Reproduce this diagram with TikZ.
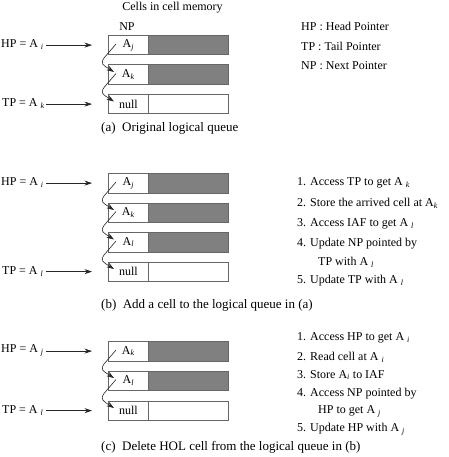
\documentclass[tikz,border=0pt]{standalone}
\usepackage{fontspec}
\setmainfont{Liberation Serif}
\usetikzlibrary{arrows.meta}
\newcommand{\ssub}[1]{\textsubscript{\textit{#1}}}
\newcommand{\qcell}[4]{%
  \node[npbox] (#1n) at (108,#2) {#3};
  \node[databox,#4] (#1d) at (148,#2) {};}
\newcommand{\qlink}[2]{%
  \draw[ptr] ([xshift=8pt,yshift=-9pt]#1n.north west) -- ([xshift=-4pt,yshift=-23pt]#1n.north west)
    .. controls ([xshift=-8pt,yshift=-29pt]#1n.north west) and ([xshift=-5pt,yshift=-0.5pt]#2n.north west)
    .. ([xshift=6pt,yshift=-7.5pt]#2n.north west);}
\newcommand{\qptr}[1]{%
  \draw[ptr] ([xshift=-62pt]#1n.west) -- ([xshift=-16pt]#1n.west);}
\begin{document}
\begin{tikzpicture}[x=1pt,y=-1pt,font=\fontsize{12}{14}\selectfont,
  npbox/.style={draw=black!60,line width=0.7pt,minimum width=40pt,minimum height=19.5pt,inner sep=0pt,anchor=north west},
  databox/.style={draw=black!60,line width=0.7pt,minimum width=80pt,minimum height=19.5pt,inner sep=0pt,anchor=north west},
  full/.style={fill=black!50},
  empty/.style={},
  ptr/.style={-{Stealth[length=7.5pt,width=5pt]},line width=0.6pt,black!85},
  lbl/.style={anchor=west,inner sep=0pt},
  captext/.style={anchor=west,inner sep=0pt,font=\fontsize{13}{15}\selectfont},
]
\useasboundingbox (0,0) rectangle (448,457);

% ---------- (a) ----------
\node[inner sep=0pt] (cim) at (172.5,8) {Cells in cell memory};
\node[inner sep=0pt] (nph) at (127,27) {NP};
\qcell{a1}{35}{A\ssub{j}}{full}
\qcell{a2}{64.5}{A\ssub{k}}{full}
\qcell{a3}{94}{null}{empty}
\qlink{a1}{a2}
\qlink{a2}{a3}
\node[lbl] (hpa) at (1,44.75) {HP = A\ \ssub{i}};
\node[lbl] (tpa) at (2,103.75) {TP = A\ \ssub{k}};
\qptr{a1}
\qptr{a3}
\node[captext] (capa) at (101,128) {(a)\ \ Original logical queue};
\node[lbl] (lg1) at (301,26) {HP : Head Pointer};
\node[lbl] (lg2) at (301,46) {TP : Tail Pointer};
\node[lbl] (lg3) at (301,66) {NP : Next Pointer};

% ---------- (b) ----------
\qcell{b1}{173}{A\ssub{j}}{full}
\qcell{b2}{202.5}{A\ssub{k}}{full}
\qcell{b3}{232}{A\ssub{l}}{full}
\qcell{b4}{261.5}{null}{empty}
\qlink{b1}{b2}
\qlink{b2}{b3}
\qlink{b3}{b4}
\node[lbl] (hpb) at (1,182.75) {HP = A\ \ssub{i}};
\node[lbl] (tpb) at (2,271.25) {TP = A\ \ssub{l}};
\qptr{b1}
\qptr{b4}
\node[captext] (capb) at (101,305) {(b)\ \ Add a cell to the logical queue in (a)};
\node[lbl] (sb1) at (297,183) {1. Access TP to get A\ \ssub{k}};
\node[lbl] (sb2) at (297,203) {2. Store the arrived cell at A\ssub{k}};
\node[lbl] (sb3) at (297,224) {3. Access IAF to get A\ \ssub{l}};
\node[lbl] (sb4) at (297,244) {4. Update NP pointed by};
\node[lbl] (sb4b) at (318,262) {TP with A\ \ssub{l}};
\node[lbl] (sb5) at (297,281) {5. Update TP with A\ \ssub{l}};

% ---------- (c) ----------
\qcell{c1}{341}{A\ssub{k}}{full}
\qcell{c2}{370.5}{A\ssub{l}}{full}
\qcell{c3}{400.5}{null}{empty}
\qlink{c1}{c2}
\qlink{c2}{c3}
\node[lbl] (hpc) at (1,350.75) {HP = A\ \ssub{j}};
\node[lbl] (tpc) at (2,410.25) {TP = A\ \ssub{l}};
\qptr{c1}
\qptr{c3}
\node[captext] (capc) at (101,447) {(c)\ \ Delete HOL cell from the logical queue in (b)};
\node[lbl] (sc1) at (297,338) {1. Access HP to get A\ \ssub{i}};
\node[lbl] (sc2) at (297,357) {2. Read cell at A\ \ssub{i}};
\node[lbl] (sc3) at (297,375) {3. Store A\ssub{i} to IAF};
\node[lbl] (sc4) at (297,394) {4. Access NP pointed by};
\node[lbl] (sc4b) at (318,411) {HP to get A\ \ssub{j}};
\node[lbl] (sc5) at (297,429) {5. Update HP with A\ \ssub{j}};
\end{tikzpicture}
\end{document}
